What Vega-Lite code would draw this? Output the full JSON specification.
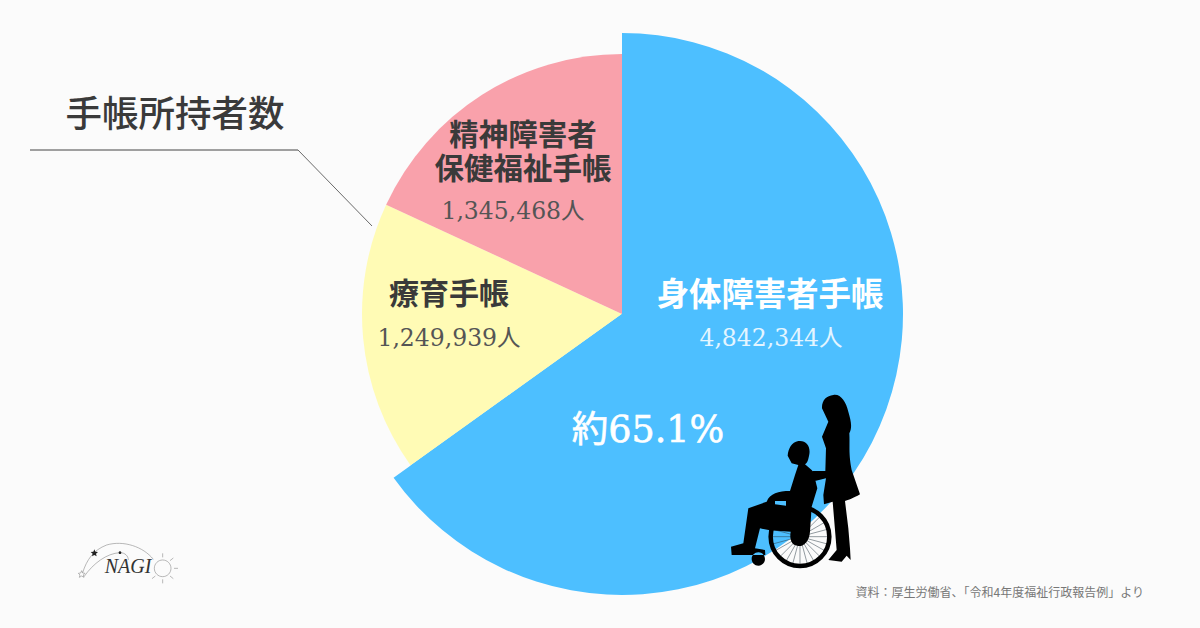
{
"$schema":"https://vega.github.io/schema/vega-lite/v6.json",
"width":1200,"height":628,"padding":0,"autosize":{"type":"fit","contains":"padding"},
"background":"#fbfbfb","view":{"stroke":null},
"data":{"values":[
{"name":"身体障害者手帳","count":4842344,"rank":1},
{"name":"療育手帳","count":1249939,"rank":2},
{"name":"精神障害者保健福祉手帳","count":1345468,"rank":3}]},
"layer":[
{"mark":{"type":"arc","radius":260},"encoding":{
"x":{"datum":622,"type":"quantitative","scale":{"domain":[0,1200],"nice":false,"zero":false},"axis":null},
"y":{"datum":314,"type":"quantitative","scale":{"domain":[628,0],"nice":false,"zero":false},"axis":null},
"theta":{"field":"count","type":"quantitative","stack":true},
"order":{"field":"rank","type":"quantitative"},
"color":{"field":"name","type":"nominal","legend":null,"scale":{"domain":["身体障害者手帳","療育手帳","精神障害者保健福祉手帳"],"range":["#4dbfff","#fffbb5","#f9a1ab"]}}}},
{"transform":[{"filter":"datum.rank===1"}],"mark":{"type":"arc","radius":281},"encoding":{
"x":{"datum":622,"type":"quantitative","axis":null},
"y":{"datum":314,"type":"quantitative","axis":null},
"theta":{"field":"count","type":"quantitative","stack":true},
"order":{"field":"rank","type":"quantitative"},
"color":{"field":"name","type":"nominal","legend":null}}},
{"data":{"values":[{"a":1}]},"mark":{"type":"rule","stroke":"#444444","strokeWidth":1},"encoding":{"x":{"datum":30,"type":"quantitative","axis":null},"x2":{"datum":298},"y":{"datum":150,"type":"quantitative","axis":null},"y2":{"datum":150}}},
{"data":{"values":[{"a":1}]},"mark":{"type":"rule","stroke":"#444444","strokeWidth":0.8},"encoding":{"x":{"datum":298,"type":"quantitative","axis":null},"x2":{"datum":372},"y":{"datum":150,"type":"quantitative","axis":null},"y2":{"datum":226}}},
{"data":{"values":[{"t":"手帳所持者数"}]},"mark":{"type":"text","font":"Noto Sans CJK JP","fontWeight":500,"fontSize":36.5,"fill":"#3a3a3a","align":"center","baseline":"middle"},"encoding":{"x":{"datum":175,"type":"quantitative","axis":null},"y":{"datum":116,"type":"quantitative","axis":null},"text":{"field":"t"}}},
{"data":{"values":[{"t":"精神障害者"}]},"mark":{"type":"text","font":"Noto Sans CJK JP","fontWeight":700,"fontSize":29.5,"fill":"#3a3a3a","align":"center","baseline":"middle"},"encoding":{"x":{"datum":523,"type":"quantitative","axis":null},"y":{"datum":136,"type":"quantitative","axis":null},"text":{"field":"t"}}},
{"data":{"values":[{"t":"保健福祉手帳"}]},"mark":{"type":"text","font":"Noto Sans CJK JP","fontWeight":700,"fontSize":29.5,"fill":"#3a3a3a","align":"center","baseline":"middle"},"encoding":{"x":{"datum":523,"type":"quantitative","axis":null},"y":{"datum":170,"type":"quantitative","axis":null},"text":{"field":"t"}}},
{"data":{"values":[{"t":"1,345,468人"}]},"mark":{"type":"text","font":"DejaVu Serif, Noto Sans CJK JP","fontSize":23.5,"fill":"#555555","align":"center","baseline":"middle"},"encoding":{"x":{"datum":513,"type":"quantitative","axis":null},"y":{"datum":212,"type":"quantitative","axis":null},"text":{"field":"t"}}},
{"data":{"values":[{"t":"療育手帳"}]},"mark":{"type":"text","font":"Noto Sans CJK JP","fontWeight":700,"fontSize":30,"fill":"#3a3a3a","align":"center","baseline":"middle"},"encoding":{"x":{"datum":449,"type":"quantitative","axis":null},"y":{"datum":295,"type":"quantitative","axis":null},"text":{"field":"t"}}},
{"data":{"values":[{"t":"1,249,939人"}]},"mark":{"type":"text","font":"DejaVu Serif, Noto Sans CJK JP","fontSize":23.5,"fill":"#555555","align":"center","baseline":"middle"},"encoding":{"x":{"datum":449,"type":"quantitative","axis":null},"y":{"datum":339,"type":"quantitative","axis":null},"text":{"field":"t"}}},
{"data":{"values":[{"t":"身体障害者手帳"}]},"mark":{"type":"text","font":"Noto Sans CJK JP","fontWeight":700,"fontSize":32.4,"fill":"#ffffff","align":"center","baseline":"middle"},"encoding":{"x":{"datum":770,"type":"quantitative","axis":null},"y":{"datum":296,"type":"quantitative","axis":null},"text":{"field":"t"}}},
{"data":{"values":[{"t":"4,842,344人"}]},"mark":{"type":"text","font":"DejaVu Serif, Noto Sans CJK JP","fontSize":23.5,"fill":"#e4f5ff","align":"center","baseline":"middle"},"encoding":{"x":{"datum":771,"type":"quantitative","axis":null},"y":{"datum":339,"type":"quantitative","axis":null},"text":{"field":"t"}}},
{"data":{"values":[{"t":"約65.1%"}]},"mark":{"type":"text","font":"DejaVu Serif, Noto Sans CJK JP","fontSize":36.5,"fill":"#ffffff","stroke":"#ffffff","strokeWidth":0.6,"align":"center","baseline":"middle"},"encoding":{"x":{"datum":648,"type":"quantitative","axis":null},"y":{"datum":431,"type":"quantitative","axis":null},"text":{"field":"t"}}},
{"data":{"values":[{"t":"資料\uFF1A厚生労働省、「令和4年度福祉行政報告例」より"}]},"mark":{"type":"text","font":"Noto Sans CJK JP","fontSize":12,"fill":"#777777","align":"right","baseline":"middle"},"encoding":{"x":{"datum":1144,"type":"quantitative","axis":null},"y":{"datum":593,"type":"quantitative","axis":null},"text":{"field":"t"}}},
{"data":{"values":[{"a":1}]},"mark":{"type":"point","size":0.4444,"filled":false,"stroke":"#2b3a45","strokeWidth":0.5,"opacity":1,"shape":"M240 455L325 455M240 455L322 477M240 455L314 497M240 455L300 515M240 455L282 529M240 455L262 537M240 455L240 540M240 455L218 537M240 455L198 529M240 455L180 515M240 455L166 497M240 455L158 477M240 455L155 455M240 455L158 433M240 455L322 433M240 455L314 412M240 455L300 395"},"encoding":{"x":{"datum":720,"type":"quantitative","axis":null},"y":{"datum":385,"type":"quantitative","axis":null}}},
{"data":{"values":[{"a":1}]},"mark":{"type":"point","size":0.4444,"filled":false,"stroke":"#000000","strokeWidth":4.5,"opacity":1,"shape":"M152 455A88 88 0 1 0 328 455A88 88 0 1 0 152 455Z"},"encoding":{"x":{"datum":720,"type":"quantitative","axis":null},"y":{"datum":385,"type":"quantitative","axis":null}}},
{"data":{"values":[{"a":1}]},"mark":{"type":"point","size":0.4444,"filled":true,"fill":"#000000","stroke":null,"opacity":1,"shape":"M340 30C362 26 378 50 385 80C392 105 398 125 388 145C390 180 385 205 395 255L420 328C400 340 385 345 375 348L385 430L390 490L392 525L380 512L365 530L325 525L350 495L338 350L312 358L310 330L318 280L285 288L278 258L316 258L318 190L306 155L325 110L318 95L306 70C305 45 320 32 340 30ZM235 168C258 165 272 182 268 208C265 225 262 235 255 238L275 255L280 262L292 310L275 365L270 440C268 470 250 485 235 483C215 482 208 465 212 440L150 436L120 430L105 490L135 495L136 510L35 510L33 485L70 475L85 370L140 350C150 325 175 318 210 318L225 270L235 240L215 235L203 212C205 190 215 172 235 168ZM165 348L165 358L198 362L198 348ZM95 522A20 20 0 1 0 135 522A20 20 0 1 0 95 522Z"},"encoding":{"x":{"datum":720,"type":"quantitative","axis":null},"y":{"datum":385,"type":"quantitative","axis":null}}},
{"data":{"values":[{"a":1}]},"mark":{"type":"point","size":0.4444,"filled":false,"stroke":"#8a8a8a","strokeWidth":0.6,"opacity":1,"shape":"M68 128C80 90 100 60 140 45C190 30 250 50 280 88M72 140C100 100 140 70 180 68C195 68 205 78 205 90M283 115A25 25 0 1 0 333 115A25 25 0 1 0 283 115ZM308 82L308 70M330 92L340 84M342 115L354 115M330 138L340 146M308 148L308 160M286 138L276 146M65 122L68 129L75 130L70 135L72 142L65 138L58 142L60 135L55 130L62 129Z"},"encoding":{"x":{"datum":60,"type":"quantitative","axis":null},"y":{"datum":530,"type":"quantitative","axis":null}}},
{"data":{"values":[{"a":1}]},"mark":{"type":"point","size":0.4444,"filled":true,"fill":"#222222","stroke":null,"opacity":1,"shape":"M103 58L106 65L114 66L108 71L110 79L103 75L96 79L98 71L92 66L100 65ZM176 68A4 4 0 1 0 184 68A4 4 0 1 0 176 68Z"},"encoding":{"x":{"datum":60,"type":"quantitative","axis":null},"y":{"datum":530,"type":"quantitative","axis":null}}},
{"data":{"values":[{"t":"NAGI"}]},"mark":{"type":"text","font":"Liberation Serif","fontStyle":"italic","fontSize":20,"fill":"#333333","align":"center","baseline":"middle"},"encoding":{"x":{"datum":128,"type":"quantitative","axis":null},"y":{"datum":567,"type":"quantitative","axis":null},"text":{"field":"t"}}}
]}
